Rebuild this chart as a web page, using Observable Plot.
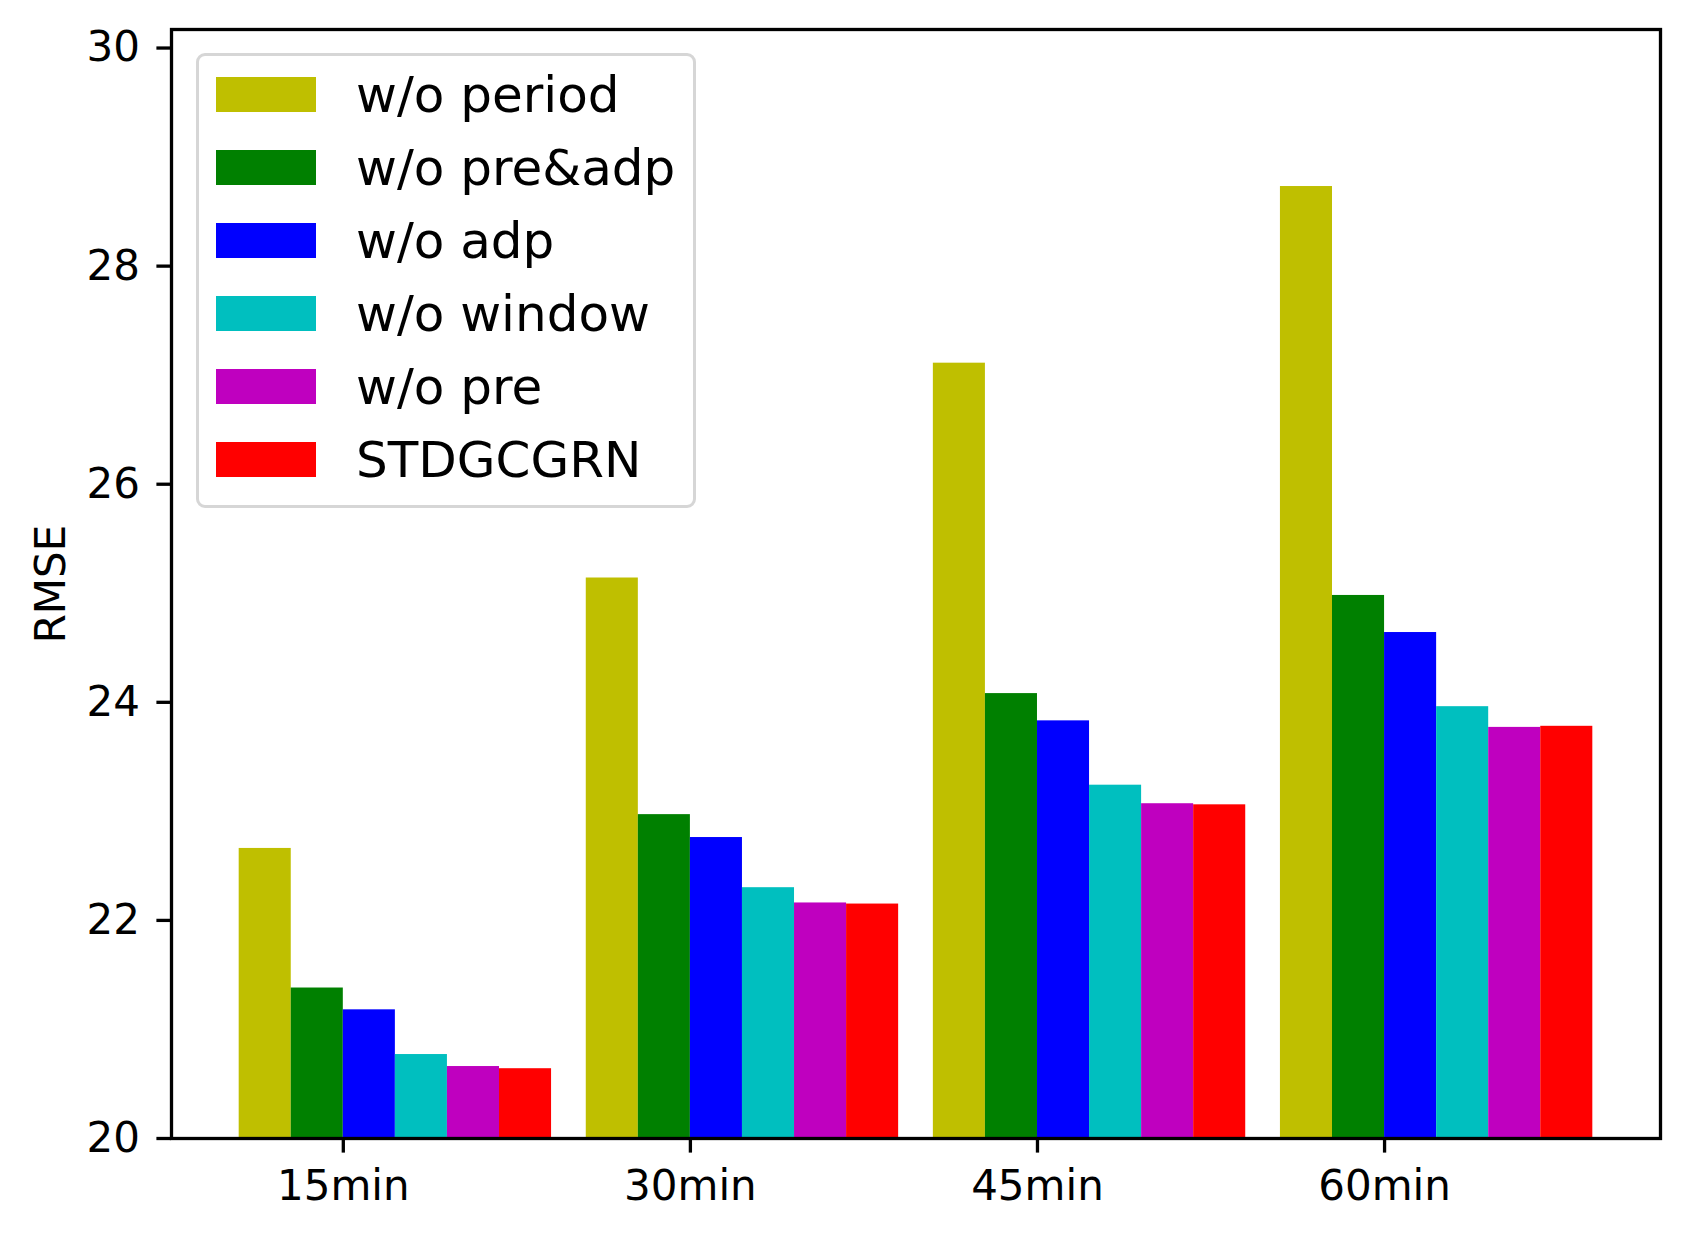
<!DOCTYPE html>
<html>
<head>
<meta charset="utf-8">
<script src="https://cdn.jsdelivr.net/npm/d3@7"></script>
<script src="https://cdn.jsdelivr.net/npm/@observablehq/plot@0.6"></script>
<style>
  html, body { margin: 0; padding: 0; background: #fff; }
  #wrap { position: relative; width: 1688px; height: 1239px; font-family: "DejaVu Sans", sans-serif; }
  #legend {
    position: absolute; left: 196px; top: 53px; width: 500px; box-sizing: border-box;
    border: 3px solid #d6d6d6; border-radius: 9px; background: rgba(255,255,255,0.8);
    padding: 2px 0 9px 17px;
  }
  .row { display: flex; align-items: center; height: 73px; }
  .sw { width: 100px; height: 34.5px; flex: none; }
  .lab { margin-left: 40px; font-size: 50px; color: #000; white-space: nowrap; line-height: 1; }
</style>
</head>
<body>
<div id="wrap"></div>
<script>
const categories = ["15min", "30min", "45min", "60min"];
const series = ["w/o period", "w/o pre&adp", "w/o adp", "w/o window", "w/o pre", "STDGCGRN"];
const colors = ["#bfbf00", "#008000", "#0000ff", "#00bfbf", "#bf00bf", "#ff0000"];
const woPeriod = [22.66, 25.14, 27.11, 28.73];
const woPreAdp = [21.38, 22.97, 24.08, 24.98];
const woAdp    = [21.18, 22.76, 23.83, 24.64];
const woWindow = [20.77, 22.30, 23.24, 23.96];
const woPre    = [20.66, 22.16, 23.07, 23.77];
const stdgcgrn = [20.64, 22.15, 23.06, 23.78];
const yTicks = [20, 22, 24, 26, 28, 30];

const seriesValues = [woPeriod, woPreAdp, woAdp, woWindow, woPre, stdgcgrn];
const barWidth = 0.15;
const rows = [];
categories.forEach((c, g) => {
  series.forEach((s, i) => {
    rows.push({cat: c, series: s, value: seriesValues[i][g],
               x1: g + (i - 2) * barWidth, x2: g + (i - 1) * barWidth});
  });
});

const chart = Plot.plot({
  width: 1688,
  height: 1239,
  marginLeft: 171,
  marginRight: 28,
  marginTop: 29,
  marginBottom: 101,
  style: {fontFamily: "DejaVu Sans, sans-serif", background: "#fff", color: "#000"},
  x: {type: "linear", domain: [-0.495, 3.795]},
  y: {domain: [20, 30.17]},
  color: {domain: series, range: colors},
  marks: [
    Plot.rectY(rows, {x1: "x1", x2: "x2", y1: 20, y2: "value", fill: "series", inset: 0}),
    Plot.frame({stroke: "#000", strokeWidth: 3.3}),
    Plot.axisY({ticks: yTicks, tickSize: 14.6, tickPadding: 17, fontSize: 42, strokeWidth: 3.3,
                label: "RMSE", labelAnchor: "center", labelOffset: 136, labelArrow: "none"}),
    Plot.axisX({ticks: [0, 1, 2, 3], tickFormat: i => categories[i], tickSize: 14.6, tickPadding: 17,
                fontSize: 42, strokeWidth: 3.3, label: null})
  ]
});
const wrap = document.getElementById("wrap");
wrap.appendChild(chart);

const legend = document.createElement("div");
legend.id = "legend";
series.forEach((s, i) => {
  const row = document.createElement("div");
  row.className = "row";
  const sw = document.createElement("div");
  sw.className = "sw";
  sw.style.background = colors[i];
  const lab = document.createElement("span");
  lab.className = "lab";
  lab.textContent = s;
  row.appendChild(sw);
  row.appendChild(lab);
  legend.appendChild(row);
});
wrap.appendChild(legend);
</script>
</body>
</html>
